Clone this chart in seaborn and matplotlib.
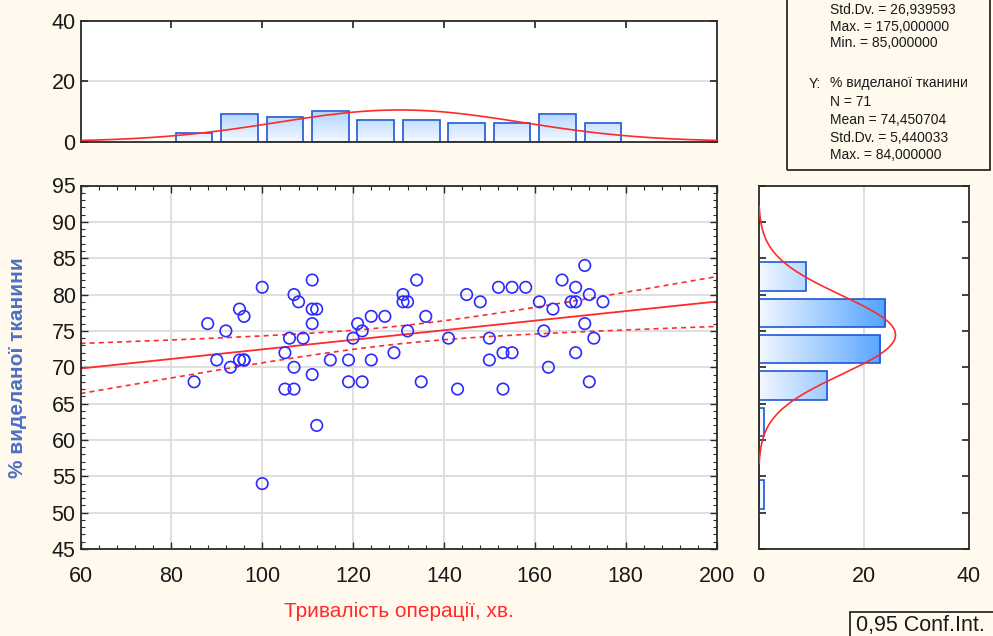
import numpy as np
import pandas as pd
import matplotlib
matplotlib.use("Agg")
import matplotlib.pyplot as plt
from matplotlib.colors import LinearSegmentedColormap
from matplotlib.patches import Rectangle
from matplotlib.ticker import MultipleLocator
import seaborn as sns

# Operation duration (min) and share of removed tissue (%), one entry per patient
duration_min = [
    100, 111, 107, 108, 95, 96, 88, 92, 111, 112, 111, 106, 109, 105, 90, 95,
    96, 93, 107, 111, 85, 105, 107, 121, 122, 120, 124, 127, 115, 119, 124, 129,
    119, 122, 112, 100, 96,
    134, 131, 131, 132, 136, 132, 135, 145, 148, 141, 150, 150, 153, 155, 143,
    153, 152, 155, 158, 161, 164, 166, 169, 171, 172, 168, 169, 175, 162, 171,
    173, 163, 169, 172,
]
tissue_pct = [
    81, 82, 80, 79, 78, 77, 76, 75, 78, 78, 76, 74, 74, 72, 71, 71,
    71, 70, 70, 69, 68, 67, 67, 76, 75, 74, 77, 77, 71, 71, 71, 72,
    68, 68, 62, 54, 71,
    82, 80, 79, 79, 77, 75, 68, 80, 79, 74, 74, 71, 72, 72, 67,
    67, 81, 81, 81, 79, 78, 82, 81, 84, 80, 79, 79, 79, 75, 76,
    74, 70, 72, 68,
]

# Histogram class boundaries (right-inclusive classes)
x_edges = list(range(80, 181, 10))
y_edges = list(range(45, 86, 5))

# Descriptive statistics printed in the summary box
x_sd = 26.939593
y_mean = 74.450704
y_sd = 5.440033
x_stats_lines = ["Std.Dv. = 26,939593", "Max. = 175,000000", "Min. = 85,000000"]
y_title = "% виделаної тканини"
y_stats_lines = ["N = 71", "Mean = 74,450704", "Std.Dv. = 5,440033", "Max. = 84,000000"]

x_label = "Тривалість операції, хв."
y_label = "% виделаної тканини"
ci_label = "0,95 Conf.Int."

sns.set_theme(style="white")
plt.rcParams["font.family"] = ["Liberation Sans", "DejaVu Sans"]

BG = "#FFF9EE"
RED = "#FF2A2A"
BLUE_PT = "#2B2BFF"
BAR_EDGE = "#1F57D4"
GRID = "#DCDCDC"
SPINE = "#2A2A2A"
TXT = "#1A1A1A"
TICK_FS = 15.5

W, H = 993, 636
fig = plt.figure(figsize=(W / 100, H / 100), dpi=100, facecolor=BG)


def px_axes(left, top, right, bottom):
    return fig.add_axes([left / W, 1 - bottom / H, (right - left) / W, (bottom - top) / H])


ax_main = px_axes(80.5, 185.5, 716.5, 549)
ax_top = px_axes(80.5, 21.5, 716.5, 141.5)
ax_right = px_axes(758.5, 185.5, 969, 549)

df = pd.DataFrame({"duration": duration_min, "tissue": tissue_pct})
n = len(df)

# ---------- scatter with linear fit and 95% confidence band ----------
sns.scatterplot(data=df, x="duration", y="tissue", ax=ax_main, marker="o", s=68,
                facecolors="none", edgecolor=BLUE_PT, linewidth=1.2, zorder=3)

xa = df["duration"].to_numpy(float)
ya = df["tissue"].to_numpy(float)
slope, intercept = np.polyfit(xa, ya, 1)
xs = np.linspace(60, 200, 300)
fit = intercept + slope * xs
resid = ya - (intercept + slope * xa)
s_err = np.sqrt(np.sum(resid ** 2) / (n - 2))
sxx = np.sum((xa - xa.mean()) ** 2)
t_crit = 1.995
half = t_crit * s_err * np.sqrt(1 / n + (xs - xa.mean()) ** 2 / sxx)
ax_main.plot(xs, fit, color=RED, lw=1.3, zorder=2)
ax_main.plot(xs, fit + half, color=RED, lw=1.2, ls=(0, (3, 2.5)), zorder=2)
ax_main.plot(xs, fit - half, color=RED, lw=1.2, ls=(0, (3, 2.5)), zorder=2)

ax_main.set_xlim(60, 200)
ax_main.set_ylim(45, 95)
ax_main.set_xticks(range(60, 201, 20))
ax_main.set_yticks(range(45, 96, 5))
ax_main.xaxis.set_minor_locator(MultipleLocator(4))
ax_main.yaxis.set_minor_locator(MultipleLocator(1))
ax_main.grid(True, which="major", color=GRID, lw=1.3)
ax_main.set_axisbelow(True)
ax_main.tick_params(which="both", direction="in", top=True, right=True, bottom=True,
                    left=True, colors=SPINE, labelcolor=TXT, labelsize=TICK_FS)
ax_main.tick_params(which="major", length=5, width=1)
ax_main.tick_params(which="minor", length=3, width=0.8)
ax_main.tick_params(axis="x", pad=12)
ax_main.set_xlabel(x_label, color=RED, fontsize=15)
ax_main.set_ylabel(y_label, color="#4E6FC6", fontsize=15, fontweight="bold")
ax_main.xaxis.set_label_coords(0.5, (549 - 602) / 363.5)
ax_main.yaxis.set_label_coords((27 - 80.5) / 636, 0.5)

# ---------- marginal histograms ----------
x_cnt = pd.cut(df["duration"], x_edges, right=True).value_counts(sort=False).to_numpy()
y_cnt = pd.cut(df["tissue"], y_edges, right=True).value_counts(sort=False).to_numpy()
x_mid = [(a + b) / 2 for a, b in zip(x_edges[:-1], x_edges[1:])]
y_mid = [(a + b) / 2 for a, b in zip(y_edges[:-1], y_edges[1:])]

sns.histplot(x=x_mid, weights=x_cnt, bins=x_edges, shrink=0.81, ax=ax_top,
             edgecolor=BAR_EDGE, linewidth=1.2, color="#BFDDFB", alpha=1)
sns.histplot(y=y_mid, weights=y_cnt, bins=y_edges, shrink=0.78, ax=ax_right,
             edgecolor=BAR_EDGE, linewidth=1.2, color="#BFDDFB", alpha=1)

bar_cmap = LinearSegmentedColormap.from_list("bar", ["#F2F8FF", "#4C9FFF"])
grad = np.linspace(0, 1, 256)


def shade_bars(ax, vertical):
    for p in list(ax.patches):
        bb = p.get_bbox()
        if vertical:
            im = ax.imshow(grad.reshape(-1, 1), cmap=bar_cmap, origin="lower",
                           extent=(bb.x0, bb.x1, 0, 25), aspect="auto", zorder=1.5)
        else:
            im = ax.imshow(grad.reshape(1, -1), cmap=bar_cmap, origin="lower",
                           extent=(0, 25, bb.y0, bb.y1), aspect="auto", zorder=1.5)
        im.set_clip_path(p)
        p.set_facecolor("none")
        p.set_zorder(2)


shade_bars(ax_top, True)
shade_bars(ax_right, False)

# fitted normal curves scaled to counts
x_mean = xa.mean()
gx = np.linspace(x_mean - 3.25 * x_sd, x_mean + 3.25 * x_sd, 400)
ax_top.plot(gx, n * 10 * np.exp(-0.5 * ((gx - x_mean) / x_sd) ** 2) / (x_sd * np.sqrt(2 * np.pi)),
            color=RED, lw=1.2, zorder=3)
gy = np.linspace(y_mean - 3.25 * y_sd, y_mean + 3.25 * y_sd, 400)
ax_right.plot(n * 5 * np.exp(-0.5 * ((gy - y_mean) / y_sd) ** 2) / (y_sd * np.sqrt(2 * np.pi)), gy,
              color=RED, lw=1.2, zorder=3)

ax_top.set_xlim(60, 200)
ax_top.set_ylim(0, 40)
ax_top.set_yticks([0, 20, 40])
ax_top.set_xticks(range(80, 181, 20))
ax_top.tick_params(axis="x", which="both", direction="in", top=True, bottom=False,
                   labelbottom=False, length=5, colors=SPINE)
ax_top.tick_params(axis="y", direction="in", left=True, right=True, length=5,
                   colors=SPINE, labelcolor=TXT, labelsize=TICK_FS)
ax_top.grid(False)
ax_top.axhline(20, color=GRID, lw=1.3, zorder=0.5)
ax_top.set_xlabel("")
ax_top.set_ylabel("")

ax_right.set_xlim(0, 40)
ax_right.set_ylim(45, 95)
ax_right.set_xticks([0, 20, 40])
ax_right.set_yticks(range(45, 96, 5))
ax_right.tick_params(axis="y", direction="in", left=True, right=True, labelleft=False,
                     length=5, colors=SPINE)
ax_right.tick_params(axis="x", direction="in", bottom=False, labelsize=TICK_FS,
                     labelcolor=TXT, pad=12)
ax_right.grid(False)
ax_right.axvline(20, color=GRID, lw=1.3, zorder=0.5)
ax_right.set_xlabel("")
ax_right.set_ylabel("")

for ax in (ax_main, ax_top, ax_right):
    ax.set_facecolor("white")
    for sp in ax.spines.values():
        sp.set_visible(True)
        sp.set_color(SPINE)
        sp.set_linewidth(1.3)

# ---------- summary box ----------
fig.patches.append(Rectangle((787 / W, 1 - 170 / H), (990 - 787) / W, 170 / H + 0.02,
                             transform=fig.transFigure, fill=False, ec=SPINE, lw=1.3))
STAT_FS = 10
for i, line in enumerate(x_stats_lines):
    fig.text(830 / W, 1 - (10 + 16.7 * i) / H, line, fontsize=STAT_FS, color=TXT, va="center")
fig.text(809 / W, 1 - 83.5 / H, "Y:", fontsize=STAT_FS, color=TXT, va="center")
fig.text(830 / W, 1 - 83.5 / H, y_title, fontsize=STAT_FS, color=TXT, va="center")
for i, line in enumerate(y_stats_lines):
    fig.text(830 / W, 1 - (102 + 17.8 * i) / H, line, fontsize=STAT_FS, color=TXT, va="center")

# ---------- confidence legend ----------
fig.patches.append(Rectangle((850 / W, -0.02), (W - 850) / W + 0.02, (636 - 612) / H + 0.02,
                             transform=fig.transFigure, fill=False, ec=SPINE, lw=1.3))
fig.text(856 / W, 1 - 625 / H, ci_label, fontsize=15.5, color=TXT, va="center")

fig.savefig("out.png", dpi=100, facecolor=BG)
